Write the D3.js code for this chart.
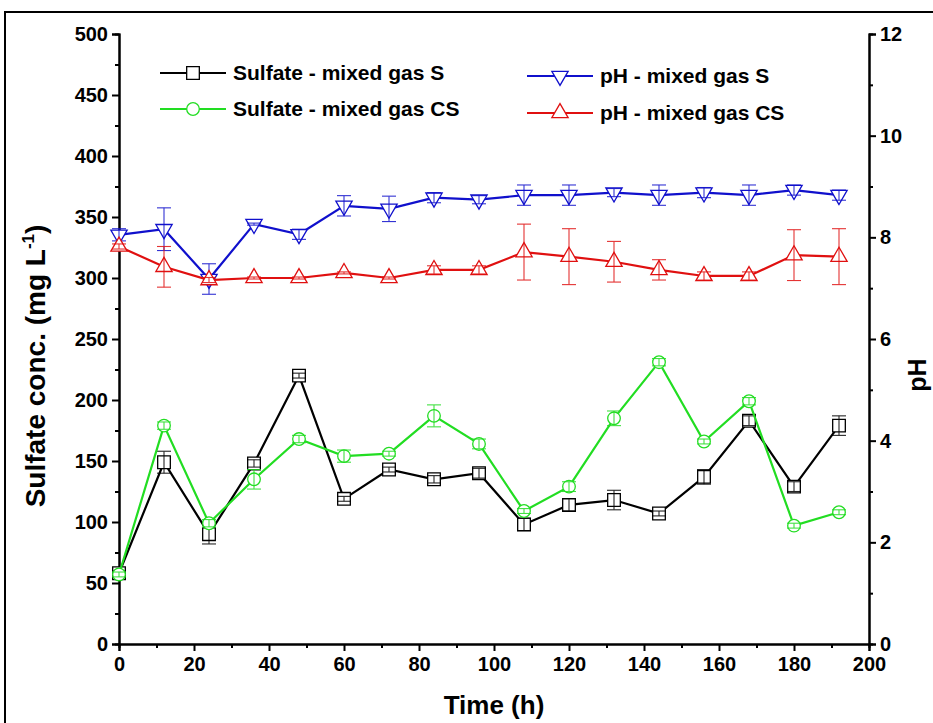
<!DOCTYPE html>
<html>
<head>
<meta charset="utf-8">
<script src="https://cdn.jsdelivr.net/npm/d3@7"></script>
<style>
  body { margin: 0; background: #fff; }
  text { font-family: "Liberation Sans", Arial, sans-serif; font-weight: bold; }
</style>
</head>
<body>
<div id="chart"></div>
<script>
// time points (h)
var time = [0, 12, 24, 36, 48, 60, 72, 84, 96, 108, 120, 132, 144, 156, 168, 180, 192];

// sulfate, mg/L
var sulfateS = [58, 149, 90, 148, 220, 119, 143, 135, 140, 98, 114, 118, 107, 137, 183, 129, 179];
var sulfateSErr = [2, 9, 8, 3, 2, 2, 2, 3, 4, 5, 5, 8, 2, 6, 4, 4, 8];
var sulfateCS = [57, 179, 99, 135, 168, 154, 156, 187, 164, 109, 129, 185, 231, 166, 199, 97, 108];
var sulfateCSErr = [2, 3, 3, 8, 3, 5, 2, 9, 4, 2, 4, 6, 3, 2, 3, 2, 2];

// pH
var phS = [8.05, 8.16, 7.18, 8.26, 8.06, 8.62, 8.56, 8.78, 8.74, 8.83, 8.83, 8.88, 8.83, 8.88, 8.83, 8.93, 8.83];
var phSErr = [0.12, 0.42, 0.3, 0.02, 0.1, 0.2, 0.25, 0.1, 0.08, 0.2, 0.2, 0.08, 0.2, 0.1, 0.2, 0.1, 0.1];
var phCS = [7.82, 7.42, 7.16, 7.2, 7.2, 7.3, 7.2, 7.36, 7.36, 7.71, 7.62, 7.52, 7.36, 7.24, 7.24, 7.65, 7.62];
var phCSErr = [0.05, 0.4, 0.05, 0.02, 0.02, 0.02, 0.02, 0.08, 0.08, 0.55, 0.55, 0.4, 0.2, 0.08, 0.08, 0.5, 0.55];

var xTicks = [0, 20, 40, 60, 80, 100, 120, 140, 160, 180, 200];
var leftTicks = [0, 50, 100, 150, 200, 250, 300, 350, 400, 450, 500];
var rightTicks = [0, 2, 4, 6, 8, 10, 12];

const width = 933, height = 723;
const x0 = 119, x1 = 869, yTop = 34, yBot = 644;

var svg = d3.select("#chart").append("svg")
  .attr("width", width)
  .attr("height", height);

// outer frame (runs off the right and bottom edge)
svg.append("rect")
  .attr("x", 5).attr("y", 12)
  .attr("width", 940).attr("height", 730)
  .attr("fill", "none").attr("stroke", "#000").attr("stroke-width", 2);

var xScale = d3.scaleLinear().domain([0, 200]).range([x0, x1]);
var yLeft = d3.scaleLinear().domain([0, 500]).range([yBot, yTop]);
var yRight = d3.scaleLinear().domain([0, 12]).range([yBot, yTop]);

/* axes */
function minorAxis(axis, scale, vals) {
  return axis(scale).tickValues(vals).tickSize(4).tickFormat("");
}

svg.append("g").attr("class", "x minor")
  .attr("transform", `translate(0, ${yBot})`)
  .call(minorAxis(d3.axisBottom, xScale, d3.range(10, 200, 20)));
svg.append("g").attr("class", "x axis")
  .attr("transform", `translate(0, ${yBot})`)
  .call(d3.axisBottom(xScale).tickValues(xTicks).tickSize(7).tickPadding(6));

svg.append("g").attr("class", "y minor")
  .attr("transform", `translate(${x0}, 0)`)
  .call(minorAxis(d3.axisLeft, yLeft, d3.range(25, 500, 50)));
svg.append("g").attr("class", "y axis")
  .attr("transform", `translate(${x0}, 0)`)
  .call(d3.axisLeft(yLeft).tickValues(leftTicks).tickSize(7).tickPadding(4));

svg.append("g").attr("class", "y2 minor")
  .attr("transform", `translate(${x1}, 0)`)
  .call(minorAxis(d3.axisRight, yRight, d3.range(1, 12, 2)));
svg.append("g").attr("class", "y2 axis")
  .attr("transform", `translate(${x1}, 0)`)
  .call(d3.axisRight(yRight).tickValues(rightTicks).tickSize(7).tickPadding(4));

svg.selectAll(".axis path, .minor path").attr("stroke", "#000").attr("stroke-width", 2);
svg.selectAll(".axis line, .minor line").attr("stroke", "#000").attr("stroke-width", 2);
svg.selectAll(".axis text")
  .style("font-size", "20px")
  .attr("fill", "#000");

/* axis titles */
svg.append("text")
  .attr("x", (x0 + x1) / 2).attr("y", 714)
  .attr("text-anchor", "middle")
  .style("font-size", "26px")
  .text("Time (h)");

var ylab = svg.append("text")
  .attr("transform", "translate(45, 366) rotate(-90)")
  .attr("text-anchor", "middle")
  .style("font-size", "28px");
ylab.append("tspan").text("Sulfate conc. (mg L");
ylab.append("tspan").attr("dy", -11).style("font-size", "17px").text("-1");
ylab.append("tspan").attr("dy", 11).text(")");

svg.append("text")
  .attr("transform", "translate(926, 375) rotate(-90)")
  .attr("text-anchor", "middle")
  .style("font-size", "25px")
  .text("pH");

/* series */
var series = [
  { name: "Sulfate - mixed gas S", vals: sulfateS, err: sulfateSErr, y: yLeft, color: "#000000", shape: "square" },
  { name: "Sulfate - mixed gas CS", vals: sulfateCS, err: sulfateCSErr, y: yLeft, color: "#22dd22", shape: "circle" },
  { name: "pH - mixed gas S", vals: phS, err: phSErr, y: yRight, color: "#1010cc", shape: "down" },
  { name: "pH - mixed gas CS", vals: phCS, err: phCSErr, y: yRight, color: "#e01010", shape: "up" }
];

function symbolPath(shape) {
  if (shape == "square") return d3.symbol().type(d3.symbolSquare).size(160)();
  if (shape == "circle") return d3.symbol().type(d3.symbolCircle).size(125)();
  return d3.symbol().type(d3.symbolTriangle).size(115)();
}

function marker(g, s, cx, cy) {
  g.append("path")
    .attr("d", symbolPath(s.shape))
    .attr("transform", `translate(${cx}, ${cy})` + (s.shape == "down" ? " rotate(180)" : ""))
    .attr("fill", "#fff")
    .attr("stroke", s.color)
    .attr("stroke-width", 1.3);
}

var plot = svg.append("g").attr("class", "lines");

series.forEach(function(s) {
  var pts = time.map((t, i) => ({ t: t, v: s.vals[i], e: s.err[i] }));
  var line = d3.line()
    .x(d => xScale(d.t))
    .y(d => s.y(d.v));

  var g = plot.append("g").attr("class", "line-group");
  g.append("path")
    .attr("d", line(pts))
    .attr("fill", "none")
    .attr("stroke", s.color)
    .attr("stroke-width", 2.2);

  pts.forEach(d => marker(g, s, xScale(d.t), s.y(d.v)));

  // error bars on top of markers
  var eb = g.selectAll(".err").data(pts).enter()
    .append("g").attr("class", "err")
    .attr("stroke", s.color).attr("stroke-width", 1.1).attr("opacity", 0.85);
  eb.append("line")
    .attr("x1", d => xScale(d.t)).attr("x2", d => xScale(d.t))
    .attr("y1", d => s.y(d.v - d.e)).attr("y2", d => s.y(d.v + d.e));
  eb.append("line")
    .attr("x1", d => xScale(d.t) - 7).attr("x2", d => xScale(d.t) + 7)
    .attr("y1", d => s.y(d.v + d.e)).attr("y2", d => s.y(d.v + d.e));
  eb.append("line")
    .attr("x1", d => xScale(d.t) - 7).attr("x2", d => xScale(d.t) + 7)
    .attr("y1", d => s.y(d.v - d.e)).attr("y2", d => s.y(d.v - d.e));
});

/* legend */
var legendPos = [[160, 73], [160, 109], [527, 76], [527, 113]];
series.forEach(function(s, i) {
  var lx = legendPos[i][0], ly = legendPos[i][1];
  var g = svg.append("g").attr("class", "legend");
  g.append("line")
    .attr("x1", lx).attr("x2", lx + 66)
    .attr("y1", ly).attr("y2", ly)
    .attr("stroke", s.color).attr("stroke-width", 2.2);
  marker(g, s, lx + 33, ly);
  g.append("text")
    .attr("x", lx + 73).attr("y", ly + 7)
    .style("font-size", "21px")
    .text(s.name);
});
</script>
</body>
</html>
